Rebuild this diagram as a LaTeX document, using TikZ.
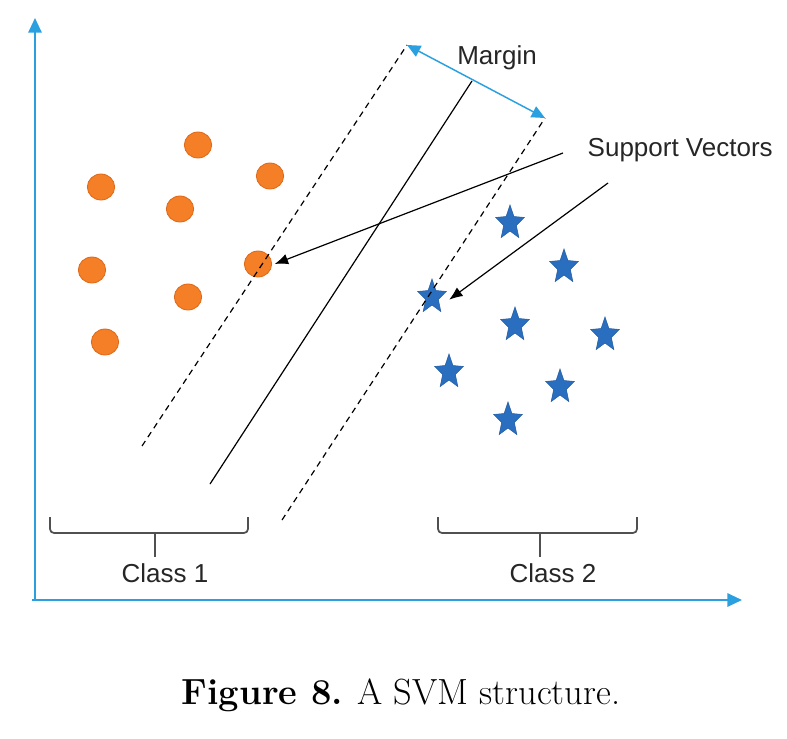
\documentclass[tikz,border=0pt]{standalone}
\usepackage{fontspec}
\setsansfont{Liberation Sans}
\usetikzlibrary{arrows.meta,shapes.geometric}
\definecolor{axisblue}{HTML}{2AA0E0}
\definecolor{dotorange}{HTML}{F57F27}
\definecolor{dotedge}{HTML}{DD6818}
\definecolor{starblue}{HTML}{2A6EC0}
\definecolor{bracegray}{HTML}{505050}
\tikzset{
  dot/.style={ellipse,fill=dotorange,draw=dotedge,line width=0.6pt,
    minimum width=20.5pt,minimum height=19.5pt,inner sep=0pt},
  bluestar/.style={star,star points=5,star point ratio=2.25,fill=starblue,
    draw=starblue!85!black,line width=0.4pt,minimum size=22.5pt,inner sep=0pt,yscale=1.2},
  lbl/.style={font=\sffamily\fontsize{19.5}{22}\selectfont,text=black!85},
  axis/.style={axisblue,line width=1.5pt,-{Triangle[length=11pt,width=10pt]}},
  margin/.style={dashed,dash pattern=on 4.5pt off 3.5pt,line width=0.9pt},
  svarrow/.style={line width=0.9pt,-{Latex[length=10pt,width=8pt]}},
  curly/.style={bracegray,line width=1.3pt,rounded corners=3pt}
}
\begin{document}
\begin{tikzpicture}[x=0.75pt,y=-0.75pt]
  \useasboundingbox (0,0) rectangle (787,738);
  % axes
  \coordinate (origin) at (35,600);
  \coordinate (ytop) at (35,18);
  \coordinate (xend) at (742,600);
  \draw[axis] ([yshift=-1pt]origin) -- (ytop);
  \draw[axis] ([xshift=-2pt]origin) -- (xend);

  % class 1 points
  \node[dot] (c1) at (198,145) {};
  \node[dot] (c2) at (101,187) {};
  \node[dot] (c3) at (270,176) {};
  \node[dot] (c4) at (180,209) {};
  \node[dot] (c5) at (92,270) {};
  \node[dot] (c6) at (258,264) {};
  \node[dot] (c7) at (188,297) {};
  \node[dot] (c8) at (105,342) {};

  % class 2 points
  \node[bluestar] (s1) at (510,223) {};
  \node[bluestar] (s2) at (564,267) {};
  \node[bluestar] (s3) at (432,297) {};
  \node[bluestar] (s4) at (515,325) {};
  \node[bluestar] (s5) at (605,335) {};
  \node[bluestar] (s6) at (449,372) {};
  \node[bluestar] (s7) at (560,387) {};
  \node[bluestar] (s8) at (508,420) {};

  % hyperplane and margins
  \coordinate (lowA) at (142,446);
  \coordinate (topA) at (407,45);
  \coordinate (lowB) at (282,520);
  \coordinate (topB) at (545,118);
  \coordinate (lowH) at (210,484);
  \coordinate (topH) at (472,81);
  \draw[margin] (lowA) -- (topA);
  \draw[margin] (lowB) -- (topB);
  \draw[line width=0.9pt] (lowH) -- (topH);
  \draw[axisblue,line width=1.1pt,{Triangle[length=10pt,width=9pt]}-{Triangle[length=10pt,width=9pt]}] (topA) -- (topB);
  \node[lbl] (mlabel) at (497,58) {Margin};

  % support vectors
  \node[lbl,anchor=west] (svlabel) at (583,150) {Support Vectors};
  \coordinate (svA) at (563,153);
  \coordinate (svB) at (608,183);
  \draw[svarrow] (svA) -- ([xshift=2pt]c6.east);
  \draw[svarrow] (svB) -- ([xshift=6pt,yshift=-2pt]s3.east);

  % braces
  \draw[curly] (50,517) -- (50,533) -- (155,533) -- (248,533) -- (248,517);
  \draw[curly] (155,533) -- (155,557);
  \draw[curly] (438,517) -- (438,533) -- (540,533) -- (637,533) -- (637,517);
  \draw[curly] (540,533) -- (540,557);
  \node[lbl] (cls1) at (165,573) {Class 1};
  \node[lbl] (cls2) at (553,573) {Class 2};

  % caption
  \node[font=\fontsize{27.3}{32}\selectfont] (caption) at (401,695) {\textbf{Figure 8.} A SVM structure.};
\end{tikzpicture}
\end{document}
